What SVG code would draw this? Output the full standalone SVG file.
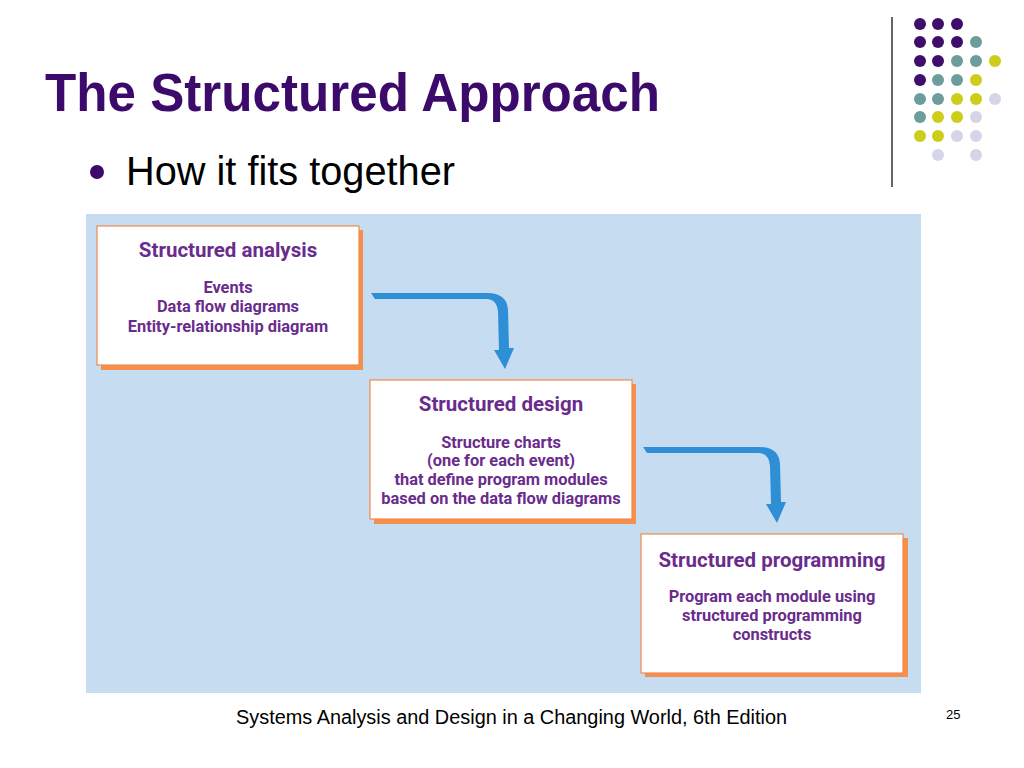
<svg xmlns="http://www.w3.org/2000/svg" width="1024" height="768" viewBox="0 0 1024 768">
<style>
.title{font-family:"Liberation Sans",Arial,sans-serif;font-weight:bold;font-size:54px;fill:#3B0A6B}
.bullet{font-family:"Liberation Sans",Arial,sans-serif;font-size:40px;fill:#000}
.foot{font-family:"Liberation Sans",Arial,sans-serif;font-size:19.5px;fill:#000}
.pg{font-family:"Liberation Sans",Arial,sans-serif;font-size:13px;fill:#000}
.bt{font-family:Roboto,"Noto Sans",sans-serif;font-weight:bold;font-size:20.5px;fill:#6A2C8C;text-anchor:middle}
.bb{font-family:Roboto,"Noto Sans",sans-serif;font-weight:bold;font-size:16.4px;fill:#6A2C8C;text-anchor:middle}
.shadow{fill:#F48F4E}
.box{fill:#fff;stroke:#F08A4B;stroke-width:1.2}
.arrow{fill:#2E8FD6}
.dp{fill:#3E0E6A}.dt{fill:#6C9D9C}.dy{fill:#CDCD1A}.dl{fill:#D5D5E8}
</style>
<defs>
<path id="arr" d="M371,293 L487,293 Q507,293 508,310 L509,348 L514,348 L505,369 L494,350 L499,350 L498,312 Q497,299 486,299 L375,299 Z"/>
</defs>
<rect width="1024" height="768" fill="#fff"/>
<text class="title" x="45" y="111" textLength="615" lengthAdjust="spacingAndGlyphs">The Structured Approach</text>
<circle cx="97" cy="172" r="7" fill="#3B0A6B"/>
<text class="bullet" x="126" y="185" textLength="329" lengthAdjust="spacingAndGlyphs">How it fits together</text>
<line x1="892" y1="17" x2="892" y2="187" stroke="#333" stroke-width="1.5"/>
<g id="dots">
<circle class="dp" cx="920" cy="24" r="6"/><circle class="dp" cx="938" cy="24" r="6"/><circle class="dp" cx="957" cy="24" r="6"/>
<circle class="dp" cx="920" cy="42" r="6"/><circle class="dp" cx="938" cy="42" r="6"/><circle class="dp" cx="957" cy="42" r="6"/><circle class="dt" cx="976" cy="42" r="6"/>
<circle class="dp" cx="920" cy="61" r="6"/><circle class="dp" cx="938" cy="61" r="6"/><circle class="dt" cx="957" cy="61" r="6"/><circle class="dt" cx="976" cy="61" r="6"/><circle class="dy" cx="995" cy="61" r="6"/>
<circle class="dp" cx="920" cy="80" r="6"/><circle class="dt" cx="938" cy="80" r="6"/><circle class="dt" cx="957" cy="80" r="6"/><circle class="dy" cx="976" cy="80" r="6"/>
<circle class="dt" cx="920" cy="99" r="6"/><circle class="dt" cx="938" cy="99" r="6"/><circle class="dy" cx="957" cy="99" r="6"/><circle class="dy" cx="976" cy="99" r="6"/><circle class="dl" cx="995" cy="99" r="6"/>
<circle class="dt" cx="920" cy="117" r="6"/><circle class="dy" cx="938" cy="117" r="6"/><circle class="dy" cx="957" cy="117" r="6"/><circle class="dl" cx="976" cy="117" r="6"/>
<circle class="dy" cx="920" cy="136" r="6"/><circle class="dy" cx="938" cy="136" r="6"/><circle class="dl" cx="957" cy="136" r="6"/><circle class="dl" cx="976" cy="136" r="6"/>
<circle class="dl" cx="938" cy="155" r="6"/><circle class="dl" cx="976" cy="155" r="6"/>
</g>
<rect x="86" y="214" width="835" height="479" fill="#C6DCF0"/>
<g id="connectors">
<use href="#arr" class="arrow"/>
<use href="#arr" class="arrow" transform="translate(272,154)"/>
</g>
<g id="analysis">
<rect class="shadow" x="101" y="230" width="262" height="140"/>
<rect class="box" x="97" y="226" width="262" height="139"/>
<text class="bt" x="228" y="257">Structured analysis</text>
<text class="bb" x="228" y="293">Events</text>
<text class="bb" x="228" y="312">Data flow diagrams</text>
<text class="bb" x="228" y="332">Entity-relationship diagram</text>
</g>
<g id="design">
<rect class="shadow" x="374" y="384" width="262" height="140"/>
<rect class="box" x="370" y="380" width="262" height="139"/>
<text class="bt" x="501" y="411">Structured design</text>
<text class="bb" x="501" y="448">Structure charts</text>
<text class="bb" x="501" y="466">(one for each event)</text>
<text class="bb" x="501" y="485">that define program modules</text>
<text class="bb" x="501" y="504">based on the data flow diagrams</text>
</g>
<g id="programming">
<rect class="shadow" x="645" y="538" width="263" height="139"/>
<rect class="box" x="641" y="534" width="262" height="139"/>
<text class="bt" x="772" y="567">Structured programming</text>
<text class="bb" x="772" y="602">Program each module using</text>
<text class="bb" x="772" y="621">structured programming</text>
<text class="bb" x="772" y="640">constructs</text>
</g>
<text class="foot" x="236" y="724" textLength="551" lengthAdjust="spacingAndGlyphs">Systems Analysis and Design in a Changing World, 6th Edition</text>
<text class="pg" x="946" y="719">25</text>
</svg>
